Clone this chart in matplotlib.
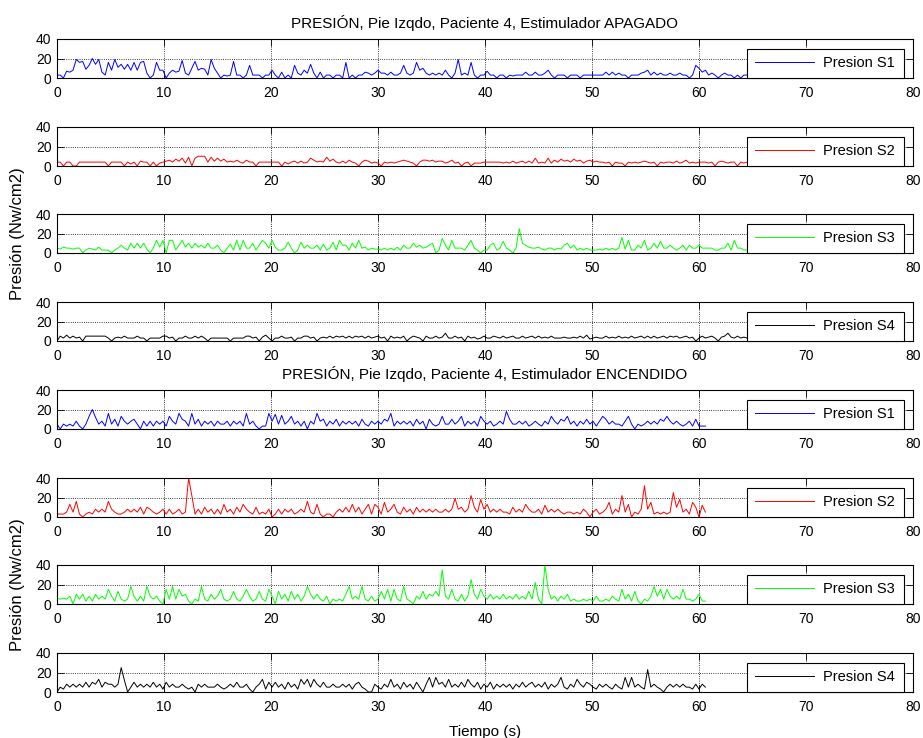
import numpy as np
import matplotlib
matplotlib.use('Agg')
import matplotlib.pyplot as plt

plt.rcParams['font.family'] = ['Liberation Sans', 'DejaVu Sans']

DT = 0.3  # s between samples (values read every 0.3 s off the original)

# ---- Estimulador APAGADO ----
apag_s1 = [3, 3, 0, 7, 6, 8, 19, 16, 17, 9,
           13, 20, 14, 19, 6, 3, 16, 8, 19, 11,
           14, 9, 14, 8, 16, 8, 16, 17, 5, 0,
           3, 16, 8, 8, 0, 5, 8, 6, 7, 18,
           5, 3, 10, 17, 8, 10, 9, 3, 19, 10,
           5, 0, 3, 2, 3, 17, 3, 3, 0, 3,
           13, 3, 3, 3, 0, 3, 3, 8, 3, 0,
           6, 0, 3, 0, 13, 5, 3, 8, 5, 14,
           5, 0, 6, 0, 3, 3, 0, 3, 3, 0,
           16, 0, 3, 0, 3, 3, 6, 5, 3, 5,
           8, 5, 5, 3, 6, 3, 3, 5, 13, 5,
           3, 5, 16, 8, 10, 5, 3, 5, 3, 5,
           3, 8, 3, 0, 5, 19, 3, 5, 3, 16,
           3, 0, 3, 3, 7, 3, 3, 0, 3, 3,
           0, 3, 2, 3, 3, 3, 6, 3, 3, 6,
           3, 3, 5, 8, 3, 0, 3, 3, 3, 0,
           3, 3, 3, 0, 3, 3, 3, 3, 3, 3,
           3, 6, 3, 6, 3, 5, 3, 3, 0, 3,
           3, 3, 5, 6, 8, 3, 6, 3, 5, 3,
           3, 5, 3, 3, 5, 3, 3, 0, 3, 13,
           10, 6, 8, 3, 5, 3, 0, 3, 5, 3,
           3, 0, 3, 0, 3, 3]
apag_s2 = [4, 4, 0, 4, 4, 0, 0, 4, 4, 4,
           4, 4, 4, 4, 4, 4, 0, 4, 4, 4,
           4, 0, 4, 2, 4, 0, 5, 4, 4, 0,
           4, 0, 3, 4, 5, 6, 4, 7, 5, 8,
           3, 9, 0, 8, 10, 10, 10, 4, 9, 5,
           8, 5, 7, 4, 5, 4, 6, 4, 3, 6,
           4, 4, 0, 4, 4, 4, 4, 4, 4, 4,
           0, 4, 2, 4, 5, 3, 5, 3, 4, 8,
           6, 4, 5, 4, 9, 5, 7, 4, 3, 5,
           3, 6, 4, 3, 0, 4, 6, 5, 3, 4,
           3, 0, 4, 3, 4, 3, 4, 5, 6, 5,
           4, 3, 0, 4, 6, 6, 5, 6, 4, 5,
           5, 3, 4, 6, 3, 4, 0, 3, 4, 0,
           3, 3, 3, 4, 4, 4, 4, 4, 4, 3,
           4, 3, 5, 3, 4, 5, 3, 5, 3, 8,
           3, 4, 3, 8, 3, 6, 4, 7, 5, 6,
           4, 7, 5, 6, 3, 5, 6, 4, 5, 4,
           4, 3, 4, 0, 4, 3, 3, 0, 4, 3,
           4, 3, 4, 5, 4, 3, 4, 0, 4, 3,
           4, 4, 3, 5, 3, 4, 6, 3, 4, 3,
           4, 4, 4, 3, 4, 0, 4, 5, 4, 3,
           4, 4, 0, 4, 3, 4]
apag_s3 = [5, 4, 6, 5, 5, 4, 5, 5, 0, 3,
           5, 4, 3, 6, 3, 3, 3, 0, 3, 5,
           8, 5, 3, 10, 5, 10, 5, 10, 4, 0,
           5, 13, 6, 13, 0, 13, 13, 3, 8, 13,
           6, 10, 5, 10, 6, 8, 5, 10, 5, 5,
           8, 3, 0, 5, 9, 3, 13, 3, 13, 5,
           5, 10, 3, 8, 13, 10, 5, 13, 6, 3,
           3, 5, 11, 5, 0, 3, 11, 5, 8, 5,
           5, 8, 3, 9, 3, 5, 11, 3, 13, 8,
           8, 3, 10, 5, 13, 5, 6, 3, 5, 4,
           4, 3, 5, 3, 5, 3, 6, 3, 8, 5,
           5, 10, 6, 8, 5, 6, 8, 10, 0, 3,
           15, 8, 3, 13, 5, 5, 5, 3, 8, 13,
           5, 3, 0, 3, 3, 8, 10, 3, 5, 12,
           5, 3, 0, 5, 25, 10, 8, 6, 5, 5,
           6, 4, 3, 5, 5, 3, 5, 4, 8, 10,
           5, 8, 3, 5, 3, 5, 3, 3, 3, 4,
           3, 5, 3, 5, 3, 5, 16, 4, 13, 3,
           3, 8, 5, 13, 3, 5, 10, 5, 12, 5,
           5, 8, 5, 3, 5, 8, 3, 8, 5, 5,
           8, 5, 5, 5, 5, 3, 3, 5, 5, 10,
           3, 13, 5, 5, 3, 3]
apag_s4 = [0, 5, 3, 6, 3, 5, 3, 4, 0, 5,
           5, 5, 5, 5, 5, 5, 3, 0, 3, 4,
           3, 5, 3, 3, 3, 5, 3, 3, 0, 3,
           3, 3, 3, 5, 5, 3, 4, 0, 3, 3,
           5, 3, 3, 5, 3, 5, 3, 0, 3, 3,
           3, 3, 3, 3, 0, 3, 3, 3, 3, 5,
           5, 3, 4, 0, 4, 6, 3, 0, 3, 3,
           5, 3, 3, 4, 0, 3, 3, 5, 5, 3,
           4, 0, 3, 4, 3, 5, 3, 5, 4, 5,
           3, 5, 3, 5, 4, 5, 3, 5, 3, 4,
           5, 3, 4, 0, 5, 3, 4, 3, 5, 0,
           3, 5, 4, 3, 0, 5, 3, 3, 5, 3,
           4, 8, 3, 3, 5, 3, 4, 0, 5, 3,
           4, 2, 3, 5, 3, 3, 5, 4, 3, 5,
           3, 4, 5, 3, 3, 5, 3, 4, 5, 3,
           5, 3, 4, 3, 5, 3, 3, 3, 4, 3,
           3, 4, 3, 5, 3, 6, 2, 3, 4, 3,
           3, 5, 3, 4, 3, 5, 3, 4, 3, 5,
           3, 4, 5, 3, 5, 3, 5, 3, 4, 5,
           3, 5, 4, 5, 3, 4, 5, 3, 4, 0,
           3, 5, 3, 4, 5, 3, 0, 4, 5, 8,
           4, 3, 5, 3, 4, 3]

# ---- Estimulador ENCENDIDO ----
enc_s1 = [5, 0, 5, 3, 5, 3, 8, 3, 0, 5,
          13, 20, 12, 5, 8, 3, 16, 5, 10, 3,
          13, 8, 5, 8, 10, 5, 0, 8, 3, 8,
          3, 8, 5, 8, 3, 13, 8, 5, 16, 10,
          8, 3, 16, 5, 10, 3, 8, 5, 8, 3,
          8, 5, 5, 8, 3, 8, 5, 8, 3, 16,
          5, 8, 3, 0, 3, 3, 16, 8, 15, 5,
          14, 5, 8, 13, 5, 8, 3, 8, 0, 8,
          5, 16, 8, 10, 3, 8, 5, 10, 3, 8,
          5, 8, 5, 8, 3, 10, 5, 3, 8, 5,
          8, 5, 10, 8, 16, 3, 8, 5, 8, 5,
          8, 3, 10, 5, 8, 0, 10, 5, 3, 5,
          13, 5, 5, 10, 5, 8, 13, 3, 8, 5,
          8, 3, 13, 8, 5, 8, 3, 5, 8, 5,
          18, 10, 5, 5, 8, 5, 8, 3, 5, 8,
          5, 3, 8, 5, 13, 8, 5, 10, 8, 13,
          5, 8, 3, 8, 5, 10, 5, 8, 3, 8,
          13, 10, 5, 8, 5, 5, 3, 8, 13, 5,
          0, 5, 3, 5, 8, 5, 8, 5, 10, 8,
          13, 8, 5, 8, 5, 3, 5, 8, 3, 10,
          3, 3, 3]
enc_s2 = [3, 3, 3, 5, 13, 5, 16, 3, 0, 3,
          5, 3, 8, 5, 8, 5, 16, 8, 5, 3,
          3, 5, 8, 5, 8, 5, 10, 3, 10, 8,
          5, 3, 5, 8, 3, 8, 3, 5, 8, 3,
          5, 40, 22, 3, 8, 3, 10, 5, 8, 3,
          8, 3, 13, 5, 8, 3, 10, 5, 13, 8,
          5, 3, 10, 3, 5, 3, 8, 0, 3, 8,
          3, 8, 5, 8, 3, 5, 8, 5, 16, 5,
          3, 13, 3, 0, 3, 3, 0, 5, 8, 5,
          10, 5, 13, 5, 10, 3, 8, 13, 3, 13,
          10, 3, 15, 5, 8, 13, 5, 3, 10, 5,
          8, 3, 10, 5, 8, 5, 8, 5, 8, 5,
          5, 8, 5, 8, 19, 8, 10, 5, 8, 22,
          10, 5, 18, 8, 13, 5, 8, 5, 8, 5,
          5, 3, 10, 5, 8, 5, 13, 8, 5, 5,
          8, 3, 12, 5, 8, 5, 8, 5, 3, 5,
          5, 3, 5, 3, 8, 5, 0, 5, 8, 3,
          5, 8, 15, 3, 8, 5, 22, 5, 13, 0,
          5, 3, 8, 32, 8, 15, 3, 5, 3, 5,
          3, 5, 25, 10, 18, 5, 8, 3, 15, 10,
          0, 12, 5]
enc_s3 = [6, 5, 6, 5, 8, 0, 10, 5, 10, 3,
          8, 3, 10, 5, 8, 5, 15, 8, 3, 13,
          5, 3, 5, 18, 8, 3, 8, 3, 18, 8,
          5, 8, 3, 0, 15, 5, 18, 5, 15, 8,
          10, 3, 0, 5, 3, 18, 5, 3, 10, 5,
          8, 15, 5, 3, 5, 13, 5, 3, 8, 15,
          8, 3, 5, 13, 5, 3, 15, 8, 0, 13,
          5, 10, 3, 13, 5, 10, 3, 8, 18, 10,
          5, 10, 5, 3, 8, 0, 5, 3, 5, 3,
          10, 18, 5, 8, 5, 18, 5, 3, 8, 3,
          5, 13, 5, 15, 3, 15, 5, 3, 18, 5,
          3, 0, 8, 5, 13, 5, 10, 8, 13, 8,
          35, 8, 5, 15, 5, 3, 10, 3, 8, 25,
          10, 5, 15, 8, 5, 10, 5, 8, 5, 10,
          5, 8, 5, 10, 5, 8, 5, 13, 5, 22,
          5, 0, 40, 15, 5, 8, 3, 8, 5, 10,
          3, 5, 3, 3, 5, 3, 5, 3, 8, 3,
          3, 5, 3, 8, 5, 3, 15, 5, 10, 3,
          13, 3, 0, 5, 3, 8, 18, 8, 15, 5,
          15, 8, 5, 8, 5, 15, 5, 5, 3, 5,
          10, 3, 3]
enc_s4 = [0, 5, 3, 8, 5, 8, 5, 8, 5, 10,
          5, 10, 8, 13, 5, 10, 8, 8, 5, 8,
          25, 12, 0, 5, 10, 5, 8, 5, 8, 5,
          10, 5, 8, 3, 10, 5, 8, 5, 5, 8,
          5, 3, 5, 0, 8, 5, 8, 5, 5, 5,
          8, 5, 3, 5, 8, 5, 10, 5, 5, 8,
          3, 0, 5, 8, 13, 3, 10, 5, 10, 5,
          8, 3, 10, 5, 8, 3, 13, 8, 13, 5,
          13, 8, 5, 10, 5, 5, 8, 5, 5, 8,
          5, 8, 3, 8, 10, 5, 3, 0, 0, 8,
          5, 3, 8, 5, 13, 5, 8, 3, 10, 5,
          8, 3, 10, 5, 0, 8, 15, 5, 15, 8,
          10, 5, 13, 5, 8, 5, 10, 5, 13, 8,
          5, 10, 3, 8, 5, 10, 3, 8, 5, 8,
          5, 8, 3, 8, 5, 10, 5, 8, 10, 5,
          8, 5, 10, 3, 8, 5, 8, 15, 5, 3,
          8, 5, 13, 8, 5, 10, 8, 5, 3, 8,
          5, 8, 5, 3, 8, 5, 3, 15, 5, 15,
          5, 8, 5, 3, 23, 5, 8, 5, 3, 0,
          5, 8, 5, 8, 5, 8, 5, 5, 3, 8,
          3, 8, 5]

series = [apag_s1, apag_s2, apag_s3, apag_s4, enc_s1, enc_s2, enc_s3, enc_s4]
labels = ['Presion S1', 'Presion S2', 'Presion S3', 'Presion S4'] * 2
colors = ['#0000ff', '#ff0000', '#00ff00', '#000000'] * 2
titles = {0: 'PRESIÓN, Pie Izqdo, Paciente 4, Estimulador APAGADO',
          4: 'PRESIÓN, Pie Izqdo, Paciente 4, Estimulador ENCENDIDO'}

W, H = 923, 738
fig = plt.figure(figsize=(W / 100, H / 100), dpi=100)
tops = [39, 127, 214, 302, 390, 478, 565, 653]

for i, p in enumerate(series):
    ax = fig.add_axes([57 / W, 1 - (tops[i] + 39) / H, 856 / W, 39 / H])
    t = np.arange(len(p)) * DT
    ax.plot(t, p, color=colors[i], linewidth=0.7, label=labels[i])
    ax.set_xlim(0, 80)
    ax.set_ylim(0, 40)
    ax.set_xticks(range(0, 81, 10))
    ax.set_yticks([0, 20, 40])
    ax.tick_params(direction='in', top=True, right=True, length=5, width=0.6,
                   labelsize=10, pad=6)
    ax.tick_params(axis='y', pad=4)
    ax.grid(True, linestyle=':', color='k', linewidth=0.6)
    for s in ax.spines.values():
        s.set_linewidth(0.8)
    # legend box sits on the bottom edge, right side of each panel
    leg = ax.legend(loc='lower left', bbox_to_anchor=(0.806, 0.0, 0.1835, 0.7),
                    mode='expand', borderaxespad=0, fontsize=10.5,
                    handlelength=4.1, handletextpad=0.6, borderpad=0.52,
                    fancybox=False, framealpha=1, edgecolor='k')
    leg.get_frame().set_linewidth(0.8)
    if i in titles:
        ax.set_title(titles[i], fontsize=11, pad=8)
    if i in (2, 6):
        ax.set_ylabel('Presión (Nw/cm2)', fontsize=12)
        ax.yaxis.set_label_coords(-0.037, 0.5)
    if i == 7:
        ax.set_xlabel('Tiempo (s)', fontsize=11)
        ax.xaxis.set_label_coords(0.5, -0.84)

fig.savefig('out.png', dpi=100)
